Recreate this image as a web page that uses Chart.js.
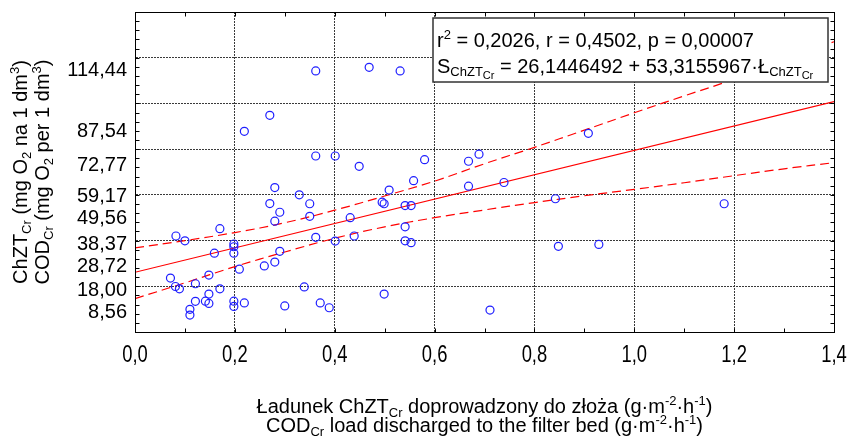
<!DOCTYPE html>
<html>
<head>
<meta charset="utf-8">
<script src="https://cdn.jsdelivr.net/npm/chart.js@4.4.1/dist/chart.umd.min.js"></script>
<style>
  html, body { margin: 0; padding: 0; background: #fff; }
</style>
</head>
<body>
<canvas id="chart" width="851" height="438"></canvas>
<script>
// load of COD (g m-2 h-1) vs COD (mg O2 per dm3)
const loadX = [0.362, 0.469, 0.531, 0.270, 0.219, 0.362, 0.401, 0.449, 0.580, 0.668,
  0.689, 0.280, 0.329, 0.270, 0.350, 0.290, 0.350, 0.280, 0.170, 0.082,
  0.100, 0.198, 0.198, 0.198, 0.159, 0.290, 0.280, 0.259, 0.209, 0.148,
  0.071, 0.081, 0.089, 0.121, 0.170, 0.339, 0.148, 0.148, 0.141, 0.121,
  0.198, 0.198, 0.219, 0.110, 0.110, 0.300, 0.371, 0.389, 0.499, 0.362,
  0.401, 0.439, 0.431, 0.495, 0.499, 0.509, 0.558, 0.541, 0.553, 0.541,
  0.541, 0.553, 0.668, 0.739, 0.908, 0.842, 1.180, 0.848, 0.929, 0.711];
const codY = [114.2, 115.8, 114.2, 94.8, 87.8, 77.0, 77.0, 72.5, 75.4, 74.7,
  77.8, 63.2, 60.0, 56.2, 56.1, 52.4, 50.6, 48.5, 45.2, 42.0,
  39.9, 38.5, 37.3, 34.5, 34.5, 35.3, 30.6, 28.9, 27.5, 24.9,
  23.6, 19.9, 18.9, 21.1, 18.9, 19.7, 16.6, 12.5, 13.5, 13.4,
  13.5, 11.2, 12.7, 9.9, 7.4, 11.4, 12.7, 10.6, 16.6, 41.4,
  39.8, 42.0, 50.0, 56.8, 56.1, 62.1, 66.2, 55.3, 55.3, 46.0,
  39.9, 39.1, 63.8, 65.4, 86.9, 58.3, 56.1, 37.5, 38.3, 9.6];

// fitted line and its confidence band
const fitX = [0, 1.4];
const fitY = [26.14, 100.78];
const bandX = [0, 0.1, 0.2, 0.3, 0.4, 0.5, 0.6, 0.7, 0.8, 0.9, 1.0, 1.1, 1.2, 1.3, 1.4];
const bandUpper = [36.8, 40.0, 43.5, 47.8, 53.3, 59.5, 66.0, 73.6, 80.8, 88.3, 95.9, 103.3, 110.6, 118.8, 127.0];
const bandLower = [14.6, 21.5, 28.6, 35.0, 41.0, 46.0, 50.0, 53.4, 56.6, 59.6, 62.4, 65.3, 68.4, 71.4, 74.1];

const xTicks = [0, 0.2, 0.4, 0.6, 0.8, 1.0, 1.2, 1.4];
const yTickLabels = [8.56, 18.00, 28.72, 38.37, 49.56, 59.17, 72.77, 87.54, 114.44];
const yGridLines = [20, 40, 60, 80, 100, 120];

const FONT = '"Liberation Sans", Arial, sans-serif';
const RED = 'rgb(255,0,0)';
const GRID = '#3a3a3a';

function pts(xs, ys) {
  return xs.map((x, i) => ({ x: x, y: ys[i] }));
}

function drawRich(ctx, parts, x, y, align) {
  let w = 0;
  parts.forEach(p => {
    ctx.font = (p.s || 20) + 'px ' + FONT;
    w += ctx.measureText(p.t).width;
  });
  let cx = align === 'center' ? x - w / 2 : x;
  parts.forEach(p => {
    ctx.font = (p.s || 20) + 'px ' + FONT;
    ctx.fillText(p.t, cx, y + (p.dy || 0));
    cx += ctx.measureText(p.t).width;
  });
}

const sub = t => ({ t: t, s: 13, dy: 4 });
const sup = t => ({ t: t, s: 13, dy: -8 });

const yTitle1 = [{ t: 'ChZT' }, sub('Cr'), { t: ' (mg O' }, sub('2'), { t: ' na 1 dm' }, sup('3'), { t: ')' }];
const yTitle2 = [{ t: 'COD' }, sub('Cr'), { t: ' (mg O' }, sub('2'), { t: ' per 1 dm' }, sup('3'), { t: ')' }];
const xTitle1 = [{ t: 'Ładunek ChZT' }, sub('Cr'), { t: ' doprowadzony do złoża (g·m' }, sup('-2'), { t: '·h' }, sup('-1'), { t: ')' }];
const xTitle2 = [{ t: 'COD' }, sub('Cr'), { t: ' load discharged to the filter bed (g·m' }, sup('-2'), { t: '·h' }, sup('-1'), { t: ')' }];
const legend1 = [{ t: 'r' }, sup('2'), { t: ' = 0,2026, r = 0,4502, p = 0,00007' }];
const legend2 = [{ t: 'S' }, { t: 'ChZT', s: 13, dy: 3 }, { t: 'Cr', s: 11, dy: 6 },
  { t: ' = 26,1446492 + 53,3155967·Ł' }, { t: 'ChZT', s: 13, dy: 3 }, { t: 'Cr', s: 11, dy: 6 }];

const frame = {
  id: 'frame',
  afterDatasetsDraw(chart) {
    const { ctx, chartArea: a, scales } = chart;
    const L = Math.round(a.left) + 0.5, R = Math.round(a.right) + 0.5;
    const T = Math.round(a.top) + 0.5, B = Math.round(a.bottom) + 0.5;
    ctx.save();
    ctx.strokeStyle = '#000';
    ctx.lineWidth = 1;
    ctx.strokeRect(L, T, R - L, B - T);
    // minor ticks pointing inward
    ctx.beginPath();
    for (let i = 1; i < 14; i++) {
      const px = Math.round(scales.x.getPixelForValue(i / 10)) + 0.5;
      ctx.moveTo(px, B); ctx.lineTo(px, B - 4);
      ctx.moveTo(px, T); ctx.lineTo(px, T + 4);
    }
    for (let v = 4; v < 140; v += 4) {
      const py = Math.round(scales.y.getPixelForValue(v)) + 0.5;
      ctx.moveTo(L, py); ctx.lineTo(L + 4, py);
      ctx.moveTo(R, py); ctx.lineTo(R - 4, py);
    }
    ctx.stroke();

    ctx.fillStyle = '#000';
    ctx.textBaseline = 'alphabetic';

    // x tick labels, narrow face
    ctx.textAlign = 'center';
    ctx.font = '23px ' + FONT;
    xTicks.forEach(v => {
      ctx.save();
      ctx.translate(scales.x.getPixelForValue(v), 362);
      ctx.scale(0.8, 1);
      ctx.fillText(v.toFixed(1).replace('.', ','), 0, 0);
      ctx.restore();
    });
    ctx.textAlign = 'left';

    // legend box with statistics
    ctx.fillStyle = '#fff';
    ctx.fillRect(433, 18, 395, 64);
    ctx.strokeStyle = '#333';
    ctx.lineWidth = 1.5;
    ctx.strokeRect(433, 18, 395, 64);
    ctx.fillStyle = '#000';
    drawRich(ctx, legend1, 437, 47, 'left');
    drawRich(ctx, legend2, 437, 73, 'left');

    // axis titles
    const cxm = (a.left + a.right) / 2;
    drawRich(ctx, xTitle1, cxm, 413, 'center');
    drawRich(ctx, xTitle2, cxm, 432, 'center');
    const cym = (a.top + a.bottom) / 2;
    [[yTitle1, 27], [yTitle2, 49]].forEach(([parts, bx]) => {
      ctx.save();
      ctx.translate(bx, cym);
      ctx.rotate(-Math.PI / 2);
      drawRich(ctx, parts, 0, 0, 'center');
      ctx.restore();
    });
    ctx.restore();
  }
};

new Chart(document.getElementById('chart'), {
  type: 'scatter',
  data: {
    datasets: [
      {
        data: pts(loadX, codY),
        pointRadius: 4,
        pointHoverRadius: 4,
        borderWidth: 1.2,
        borderColor: 'rgb(30,30,255)',
        backgroundColor: 'rgba(0,0,0,0)'
      },
      {
        data: pts(fitX, fitY),
        showLine: true,
        pointRadius: 0,
        borderColor: RED,
        borderWidth: 1.2
      },
      {
        data: pts(bandX, bandUpper),
        showLine: true,
        pointRadius: 0,
        tension: 0.4,
        borderColor: RED,
        borderWidth: 1.2,
        borderDash: [9, 5]
      },
      {
        data: pts(bandX, bandLower),
        showLine: true,
        pointRadius: 0,
        tension: 0.4,
        borderColor: RED,
        borderWidth: 1.2,
        borderDash: [9, 5]
      }
    ]
  },
  options: {
    responsive: false,
    animation: false,
    devicePixelRatio: 1,
    layout: { padding: { top: 12, right: 17, left: 0, bottom: 0 } },
    plugins: { legend: { display: false }, tooltip: { enabled: false } },
    scales: {
      x: {
        type: 'linear',
        min: 0,
        max: 1.4,
        afterBuildTicks: s => { s.ticks = xTicks.map(v => ({ value: v })); },
        afterFit: s => {
          s.height = 106;
          s.paddingLeft = 0; s.paddingRight = 0;
        },
        ticks: { display: false, autoSkip: false },
        grid: {
          color: c => (c.tick && c.tick.value > 0.01 && c.tick.value < 1.39) ? GRID : 'rgba(0,0,0,0)',
          lineWidth: 1,
          drawTicks: false
        },
        border: { display: true, color: '#000', width: 1, dash: [2, 1] }
      },
      y: {
        type: 'linear',
        min: 0,
        max: 140,
        afterBuildTicks: s => {
          s.ticks = yTickLabels.concat(yGridLines).sort((a, b) => a - b).map(v => ({ value: v }));
        },
        afterFit: s => {
          s.width = 135;
          s.paddingTop = 0; s.paddingBottom = 0;
        },
        ticks: {
          callback: v => yTickLabels.includes(v) ? v.toFixed(2).replace('.', ',') : '',
          font: { family: FONT, size: 20 },
          color: '#000',
          padding: 8,
          autoSkip: false
        },
        grid: {
          color: c => (c.tick && yGridLines.includes(c.tick.value)) ? GRID : 'rgba(0,0,0,0)',
          lineWidth: 1,
          drawTicks: false
        },
        border: { display: true, color: '#000', width: 1, dash: [2, 1] }
      }
    }
  },
  plugins: [frame]
});
</script>
</body>
</html>
